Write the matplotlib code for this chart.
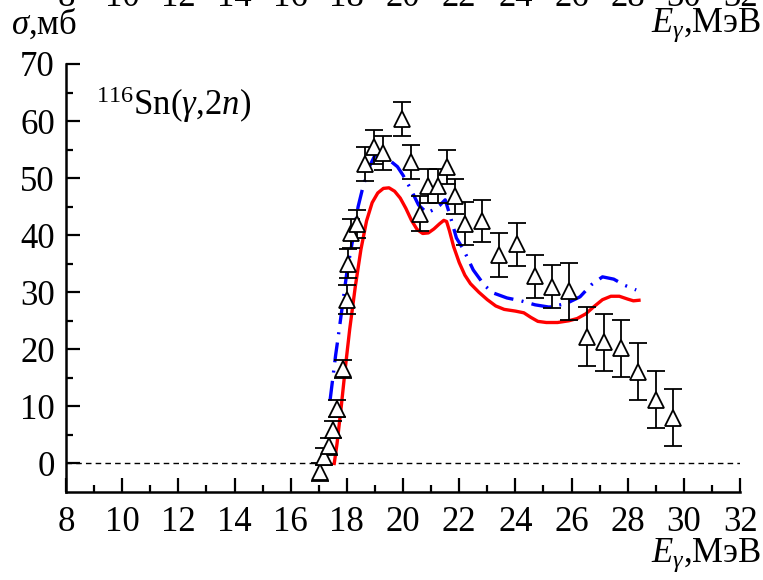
import matplotlib
matplotlib.use("Agg")
import matplotlib.pyplot as plt

plt.rcParams['font.family'] = ['Liberation Serif', 'DejaVu Serif']
plt.rcParams['mathtext.fontset'] = 'custom'
plt.rcParams['mathtext.rm'] = 'Liberation Serif'
plt.rcParams['mathtext.it'] = 'Liberation Serif:italic'

# experiment 116Sn(g,2n)
e_exp = [17.05, 17.2, 17.35, 17.5, 17.65, 17.85, 18.0, 18.05, 18.15, 18.35,
         18.65, 18.95, 19.3, 19.95, 20.3, 20.6, 20.9, 21.25, 21.55, 21.85,
         22.2, 22.8, 23.4, 24.05, 24.7, 25.3, 25.9, 26.55, 27.15, 27.75,
         28.35, 29.0, 29.6]
s_exp = [-1.5, 1.2, 3.0, 5.9, 9.6, 16.5, 28.7, 35.0, 40.3, 42.0,
         52.5, 55.5, 54.4, 60.4, 52.8, 43.8, 48.6, 48.6, 52.0, 46.8,
         42.0, 42.5, 36.5, 38.4, 32.8, 31.0, 30.2, 22.2, 21.2, 20.2,
         16.1, 11.2, 8.0]
err_exp = [1.5, 1.5, 1.5, 1.5, 1.5, 1.6, 2.5, 2.5, 2.5, 2.5,
           3, 3, 3, 3, 3, 3, 3, 3, 3, 3,
           3.8, 3.7, 3.8, 3.8, 3.8, 3.7, 5, 5.2, 5, 5,
           5, 5, 5]

# red solid curve
e_red = [17.55, 17.65, 17.8, 17.95, 18.1, 18.3, 18.5, 18.7, 18.9, 19.1,
         19.3, 19.5, 19.7, 19.9, 20.1, 20.3, 20.5, 20.7, 20.9, 21.1,
         21.3, 21.45, 21.55, 21.65, 21.8, 22.0, 22.2, 22.4, 22.7, 23.0,
         23.3, 23.6, 24.0, 24.3, 24.55, 24.8, 25.1, 25.5, 25.9, 26.2,
         26.5, 26.8, 27.1, 27.4, 27.7, 28.0, 28.2, 28.4]
s_red = [0, 3.5, 10, 17, 23.5, 31, 37.5, 42.5, 45.7, 47.4,
         48.2, 48.3, 47.7, 46.5, 44.7, 42.6, 41.0, 40.3, 40.4, 41.1,
         42.0, 42.6, 42.4, 40.8, 38.0, 35.2, 33.0, 31.5, 30.0, 28.7,
         27.6, 27.0, 26.7, 26.4, 25.6, 24.9, 24.7, 24.7, 25.0, 25.4,
         26.2, 27.5, 28.7, 29.3, 29.3, 28.8, 28.5, 28.6]

# blue dash-dot curve
e_blue = [17.4, 17.5, 17.6, 17.7, 17.85, 18.0, 18.2, 18.4, 18.55, 18.75,
          19.0, 19.2, 19.5, 19.8, 20.0, 20.25, 20.55, 20.85, 21.1, 21.3,
          21.5, 21.7, 21.9, 22.15, 22.5, 22.9, 23.2, 23.7, 24.2, 24.7,
          25.2, 25.8, 26.3, 26.7, 27.1, 27.5, 27.9, 28.3]
s_blue = [11, 15, 19, 22.5, 28, 33.5, 39, 45, 48, 51.5,
          54, 54.4, 53.2, 52, 50.5, 48.3, 45.3, 43.9, 44.5, 45.2,
          46.2, 43, 39.5, 37.5, 33.9, 31.2, 29.9, 29, 28.5, 27.8,
          27.4, 28, 29.2, 31.3, 32.7, 32.3, 31.2, 30.4]

xticks = list(range(8, 33, 2))
yticks = list(range(0, 71, 10))

fig = plt.figure(figsize=(7.63, 5.8), dpi=100)
ax = fig.add_axes([0.0865, 0.1517, 0.8835, 0.738])

ax.axhline(0, color='black', lw=1.0, ls=(0, (4, 3)), zorder=1)
ax.plot(e_red, s_red, color='red', lw=2.4, zorder=2, solid_joinstyle='round')
ax.plot(e_blue, s_blue, color='blue', lw=2.4, ls=(0, (6, 2.5, 0.6, 2.5)), zorder=2)
ax.errorbar(e_exp, s_exp, yerr=err_exp, fmt='^', ms=12, mfc='white', mec='black',
            mew=1.3, ecolor='black', elinewidth=1.3, capsize=6.5, capthick=1.3, zorder=3)

ax.set_xlim(8, 32)
ax.set_ylim(-5, 70)
ax.set_xticks(xticks)
ax.set_yticks(yticks)
ax.set_xticks(range(9, 32, 2), minor=True)
ax.set_yticks(range(5, 70, 10), minor=True)
ax.tick_params(direction='in', length=10, width=1.6, labelsize=25, pad=10)
ax.tick_params(which='minor', direction='in', length=5, width=1.6)
ax.tick_params(axis='y', pad=8)
for s in ['top', 'right']:
    ax.spines[s].set_visible(False)
for s in ['left', 'bottom']:
    ax.spines[s].set_linewidth(1.8)

ax.text(0.045, 0.905, r'$^{116}$Sn($\gamma$,2$n$)', transform=ax.transAxes,
        fontsize=25, va='center', ha='left')

fig.text(0.015, 0.957, r'$\sigma$,мб', fontsize=25, ha='left', va='center')
fig.text(0.997, 0.957, r'$E_\gamma$,МэВ', fontsize=25, ha='right', va='center')
fig.text(0.997, 0.043, r'$E_\gamma$,МэВ', fontsize=25, ha='right', va='center')

# cut-off tick labels of the panel above (only their lower part shows)
for t in xticks:
    xf = 0.0865 + (t - 8) / 24 * 0.8835
    fig.text(xf, 1.004, str(t), fontsize=25, ha='center', va='center')

fig.savefig('out.png', dpi=100)
